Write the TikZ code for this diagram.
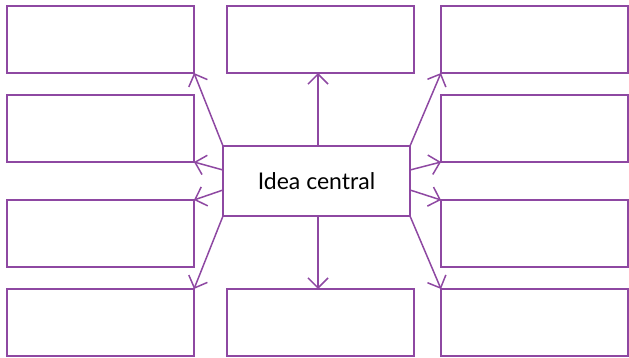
\documentclass[tikz,border=0pt]{standalone}
\usepackage{fontspec}
\setmainfont{Lato}
\usetikzlibrary{arrows.meta}
\definecolor{vio}{RGB}{142,72,162}
\begin{document}
\begin{tikzpicture}[x=1pt,y=-1pt,
  box/.style={draw=vio,line width=1.5pt,minimum width=187pt,minimum height=67pt,inner sep=0pt,outer sep=0pt},
  cbox/.style={draw=vio,line width=1.5pt,minimum width=187pt,minimum height=70pt,inner sep=0pt,outer sep=0pt,font=\fontsize{23}{26}\selectfont},
  arr/.style={draw=vio,line width=1.5pt,-{Straight Barb[length=10pt,width=20pt,line width=1.5pt]}}]
\useasboundingbox (0,0) rectangle (629,358);
% left column
\node[box] (l1) at (100.5,39.5) {};
\node[box] (l2) at (100.5,128.5) {};
\node[box] (l3) at (100.5,233.5) {};
\node[box] (l4) at (100.5,322.5) {};
% middle column
\node[box] (m1) at (320.5,39.5) {};
\node[box] (m4) at (320.5,322.5) {};
% right column
\node[box] (r1) at (534.5,39.5) {};
\node[box] (r2) at (534.5,128.5) {};
\node[box] (r3) at (534.5,233.5) {};
\node[box] (r4) at (534.5,322.5) {};
% central
\node[cbox] (c) at (316.5,181) {Idea central};
\coordinate (cwa) at ([yshift=11pt]c.west);
\coordinate (cwb) at ([yshift=-9pt]c.west);
\coordinate (cea) at ([yshift=11pt]c.east);
\coordinate (ceb) at ([yshift=-9pt]c.east);
\coordinate (ct) at ([xshift=1.5pt]c.north);
\coordinate (cb) at ([xshift=1.5pt]c.south);
\draw[arr] (ct) -- (ct |- m1.south);
\draw[arr] (cb) -- (cb |- m4.north);
\draw[arr] (c.north west) -- (l1.south east);
\draw[arr] (cwa) -- (l2.south east);
\draw[arr] (cwb) -- (l3.north east);
\draw[arr] (c.south west) -- (l4.north east);
\draw[arr] (c.north east) -- (r1.south west);
\draw[arr] (cea) -- (r2.south west);
\draw[arr] (ceb) -- (r3.north west);
\draw[arr] (c.south east) -- (r4.north west);
\end{tikzpicture}
\end{document}
